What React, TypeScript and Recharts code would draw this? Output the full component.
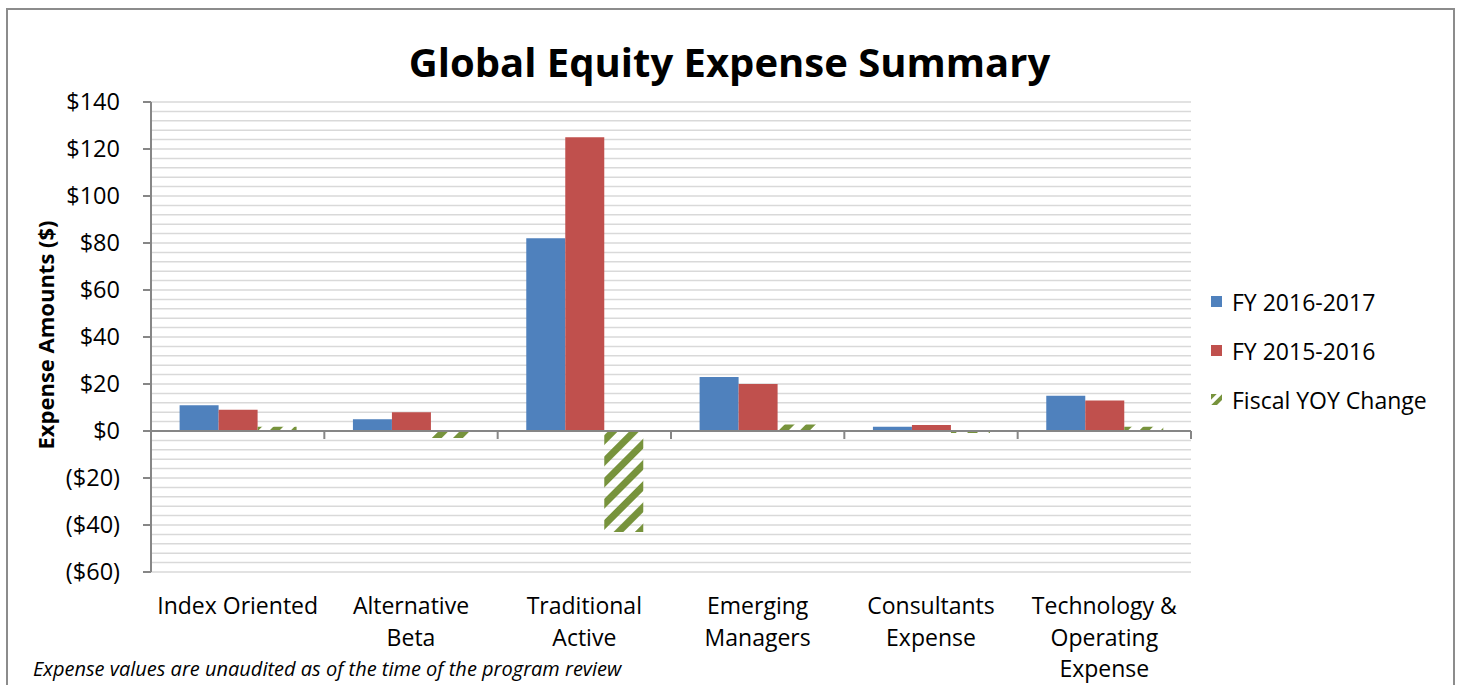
import React from "react";
import { BarChart, Bar, XAxis, YAxis, CartesianGrid, ReferenceLine } from "recharts";

// values in $ millions
const categories = [
  "Index Oriented",
  "Alternative Beta",
  "Traditional Active",
  "Emerging Managers",
  "Consultants Expense",
  "Technology & Operating Expense",
];
const labelLines = [
  ["Index Oriented"],
  ["Alternative", "Beta"],
  ["Traditional", "Active"],
  ["Emerging", "Managers"],
  ["Consultants", "Expense"],
  ["Technology &", "Operating", "Expense"],
];
const fy1617 = [11, 5, 82, 23, 1.8, 15];
const fy1516 = [9, 8, 125, 20, 2.6, 13];
const yoyChange = [1.8, -3, -43, 2.8, -0.8, 1.8];

const yDomain = [-60, 140];
const majorStep = 20;
const minorStep = 4;

const yTicks: number[] = [];
for (let v = yDomain[0]; v <= yDomain[1]; v += minorStep) yTicks.push(v);

const data = categories.map((name, i) => ({
  name,
  fy1617: fy1617[i],
  fy1516: fy1516[i],
  yoy: yoyChange[i],
}));

const FONT = "'Open Sans', sans-serif";
const BLUE = "#4F81BD";
const RED = "#C0504D";
const GREEN = "#77933C";
const AXIS = "#868686";

const fmtMoney = (v: number) => (v < 0 ? `($${Math.abs(v)})` : `$${v}`);

const YTick = (props: any) => {
  const { x, y, payload } = props;
  const v = payload.value;
  if (v % majorStep !== 0) return <g />;
  return (
    <g>
      <line x1={x - 8} x2={x} y1={y} y2={y} stroke={AXIS} strokeWidth={2} />
      <text x={x - 31} y={y + 8} textAnchor="end" fontFamily={FONT} fontSize={23.5} fill="#000">
        {fmtMoney(v)}
      </text>
    </g>
  );
};

const XTick = (props: any) => {
  const { x, y, index } = props;
  const lines: string[] = labelLines[index] || [];
  return (
    <text x={x} y={y + 42} textAnchor="middle" fontFamily={FONT} fontSize={23} fill="#000">
      {lines.map((l, i) => (
        <tspan key={i} x={x} dy={i === 0 ? 0 : 31.5}>
          {l}
        </tspan>
      ))}
    </text>
  );
};

// zero axis line with category separator ticks hanging below it
const ZeroAxis = (props: any) => {
  const { x1, x2, y1 } = props;
  const n = categories.length;
  const band = (x2 - x1) / n;
  return (
    <g>
      <line x1={x1} x2={x2} y1={y1} y2={y1} stroke={AXIS} strokeWidth={2} />
      {categories.map((_, i) => (
        <line
          key={i}
          x1={x1 + band * (i + 1)}
          x2={x1 + band * (i + 1)}
          y1={y1}
          y2={y1 + 8}
          stroke={AXIS}
          strokeWidth={2}
        />
      ))}
    </g>
  );
};

const legendItems = [
  { label: "FY 2016-2017", color: BLUE },
  { label: "FY 2015-2016", color: RED },
  { label: "Fiscal YOY Change", color: "hatch" },
];

export default function App() {
  return (
    <div
      style={{
        position: "absolute",
        left: 0,
        top: 0,
        width: 1460,
        height: 685,
        overflow: "hidden",
        background: "#fff",
        fontFamily: FONT,
      }}
    >
      <div
        style={{
          position: "absolute",
          left: 6,
          top: 8,
          width: 1445,
          height: 720,
          border: "2px solid #8c8c8c",
        }}
      />
      <div
        style={{
          position: "absolute",
          left: 6,
          width: 1447,
          top: 35,
          textAlign: "center",
          fontSize: 40,
          fontWeight: 700,
          lineHeight: "54px",
        }}
      >
        Global Equity Expense Summary
      </div>
      <div
        style={{
          position: "absolute",
          left: 45,
          top: 335,
          transform: "translate(-50%, -50%) rotate(-90deg)",
          fontSize: 22,
          fontWeight: 700,
          whiteSpace: "nowrap",
        }}
      >
        Expense Amounts ($)
      </div>
      <BarChart
        width={1460}
        height={685}
        data={data}
        margin={{ top: 102, right: 269, left: 0, bottom: 13 }}
        barGap={0}
        barCategoryGap="16.5%"
        style={{ position: "absolute", left: 0, top: 0 }}
      >
        <defs>
          <pattern id="hatch" width="15" height="15" patternUnits="userSpaceOnUse" patternTransform="rotate(45)">
            <rect x="0" y="0" width="7" height="15" fill={GREEN} />
          </pattern>
        </defs>
        <CartesianGrid horizontal vertical={false} stroke="#d9d9d9" strokeWidth={1.5} />
        <XAxis
          dataKey="name"
          height={100}
          axisLine={false}
          tickLine={false}
          tickSize={0}
          tickMargin={0}
          interval={0}
          tick={<XTick />}
        />
        <YAxis
          width={151}
          domain={yDomain}
          ticks={yTicks}
          interval={0}
          tickSize={0}
          tickMargin={0}
          tickLine={false}
          axisLine={{ stroke: AXIS, strokeWidth: 2 }}
          tick={<YTick />}
        />
        <Bar dataKey="fy1617" fill={BLUE} isAnimationActive={false} />
        <Bar dataKey="fy1516" fill={RED} isAnimationActive={false} />
        <Bar dataKey="yoy" fill="url(#hatch)" isAnimationActive={false} />
        <ReferenceLine y={0} shape={<ZeroAxis />} />
      </BarChart>
      <div style={{ position: "absolute", left: 1211, top: 277 }}>
        {legendItems.map((it) => (
          <div
            key={it.label}
            style={{ display: "flex", alignItems: "center", height: 49, fontSize: 23, lineHeight: "34px" }}
          >
            <svg width={11} height={11} style={{ marginRight: 10 }}>
              <defs>
                <pattern id="hatchLegend" width="8" height="8" patternUnits="userSpaceOnUse" patternTransform="rotate(45)">
                  <rect x="0" y="0" width="4" height="8" fill={GREEN} />
                </pattern>
              </defs>
              <rect width={11} height={11} fill={it.color === "hatch" ? "url(#hatchLegend)" : it.color} />
            </svg>
            <span>{it.label}</span>
          </div>
        ))}
      </div>
      <div
        style={{
          position: "absolute",
          left: 33,
          top: 658,
          fontSize: 20,
          lineHeight: "22px",
          fontStyle: "italic",
          whiteSpace: "nowrap",
        }}
      >
        Expense values are unaudited as of the time of the program review
      </div>
    </div>
  );
}
